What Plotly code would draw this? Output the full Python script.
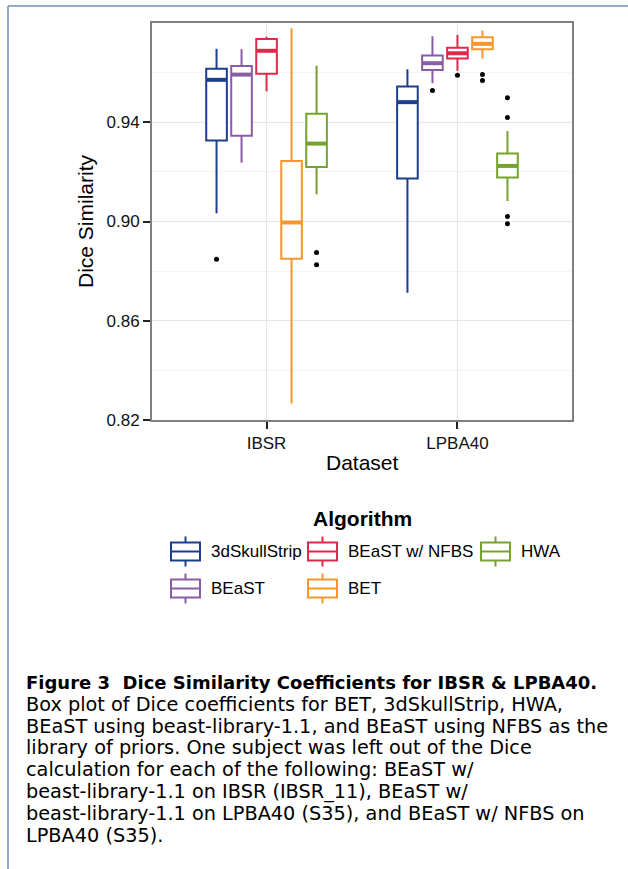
import plotly.graph_objects as go

# ---------------- data ----------------
categories = ["IBSR", "LPBA40"]
algorithms = ["3dSkullStrip", "BEaST", "BEaST w/ NFBS", "BET", "HWA"]
colors = ["#1D3E8E", "#8A5CA6", "#E1284A", "#F8962E", "#76A22E"]

# each list: [IBSR, LPBA40]
lower_fence = {
    "3dSkullStrip": [0.9033, 0.8713],
    "BEaST": [0.9237, 0.9557],
    "BEaST w/ NFBS": [0.9525, 0.9608],
    "BET": [0.8267, 0.9657],
    "HWA": [0.9110, 0.9083],
}
q1 = {
    "3dSkullStrip": [0.9326, 0.9173],
    "BEaST": [0.9346, 0.9611],
    "BEaST w/ NFBS": [0.9595, 0.9657],
    "BET": [0.8850, 0.9694],
    "HWA": [0.9220, 0.9177],
}
median = {
    "3dSkullStrip": [0.9571, 0.9481],
    "BEaST": [0.9592, 0.9638],
    "BEaST w/ NFBS": [0.9688, 0.9678],
    "BET": [0.8996, 0.9716],
    "HWA": [0.9314, 0.9224],
}
q3 = {
    "3dSkullStrip": [0.9616, 0.9544],
    "BEaST": [0.9627, 0.9669],
    "BEaST w/ NFBS": [0.9736, 0.9700],
    "BET": [0.9244, 0.9743],
    "HWA": [0.9434, 0.9274],
}
upper_fence = {
    "3dSkullStrip": [0.9696, 0.9614],
    "BEaST": [0.9694, 0.9747],
    "BEaST w/ NFBS": [0.9745, 0.9752],
    "BET": [0.9779, 0.9770],
    "HWA": [0.9628, 0.9365],
}
outliers = {
    "3dSkullStrip": [[0.8848], []],
    "BEaST": [[], [0.9528]],
    "BEaST w/ NFBS": [[], [0.9589]],
    "BET": [[], [0.9592, 0.9568]],
    "HWA": [[0.8875, 0.8826], [0.9499, 0.9419, 0.9020, 0.8991]],
}

y_ticks = [0.82, 0.86, 0.90, 0.94]
y_tick_labels = ["0.82", "0.86", "0.90", "0.94"]

x_title = "Dataset"
y_title = "Dice Similarity"
legend_title = "Algorithm"

caption_title = "Figure 3  Dice Similarity Coefficients for IBSR &amp; LPBA40."
caption_lines = [
    "Box plot of Dice coefficients for BET, 3dSkullStrip, HWA,",
    "BEaST using beast-library-1.1, and BEaST using NFBS as the",
    "library of priors. One subject was left out of the Dice",
    "calculation for each of the following: BEaST w/",
    "beast-library-1.1 on IBSR (IBSR_11), BEaST w/",
    "beast-library-1.1 on LPBA40 (S35), and BEaST w/ NFBS on",
    "LPBA40 (S35).",
]

# ---------------- layout geometry ----------------
W, H = 628, 869
ML, MR, MT, MB = 152, 56, 23, 449
PW = W - ML - MR
PH = H - MT - MB


def px(x):
    return (x - ML) / PW


def py(y):
    return (H - MB - y) / PH


DODGE = 0.131
BOX_W = 0.108
FONT = "Liberation Sans"

fig = go.Figure()

n = len(algorithms)
for j, (alg, col) in enumerate(zip(algorithms, colors)):
    off = (j - (n - 1) / 2) * DODGE
    xs = [i + off for i in range(len(categories))]
    fig.add_trace(go.Box(
        name=alg, x=xs,
        q1=q1[alg], median=median[alg], q3=q3[alg],
        lowerfence=lower_fence[alg], upperfence=upper_fence[alg],
        width=BOX_W, whiskerwidth=0, boxpoints=False,
        line=dict(color=col, width=2), fillcolor="white",
        showlegend=False,
    ))
    # thicker median line (ggplot style)
    mx, my = [], []
    for x, m in zip(xs, median[alg]):
        mx += [x - BOX_W / 2, x + BOX_W / 2, None]
        my += [m, m, None]
    fig.add_trace(go.Scatter(x=mx, y=my, mode="lines",
                             line=dict(color=col, width=4),
                             hoverinfo="skip", showlegend=False))
    ox, oy = [], []
    for x, pts in zip(xs, outliers[alg]):
        ox += [x] * len(pts)
        oy += pts
    fig.add_trace(go.Scatter(x=ox, y=oy, mode="markers",
                             marker=dict(color="black", size=5),
                             showlegend=False, name=alg + " outliers"))

shapes = []
annotations = []

# axis titles
annotations.append(dict(text=x_title, x=px(362), y=py(462), xref="paper", yref="paper",
                        showarrow=False, xanchor="center", yanchor="middle",
                        font=dict(family=FONT, size=21, color="black")))
annotations.append(dict(text=y_title, x=px(86), y=py(221), xref="paper", yref="paper",
                        showarrow=False, xanchor="center", yanchor="middle", textangle=-90,
                        font=dict(family=FONT, size=21, color="black")))

# legend (ggplot-like, drawn manually)
annotations.append(dict(text="<b>" + legend_title + "</b>", x=px(362), y=py(518),
                        xref="paper", yref="paper", showarrow=False,
                        xanchor="center", yanchor="middle",
                        font=dict(family=FONT, size=21, color="black")))
legend_cols_x = [171, 308, 481]
legend_rows_y = [551.5, 588.5]
legend_pos = {  # (col, row)
    "3dSkullStrip": (0, 0), "BEaST": (0, 1),
    "BEaST w/ NFBS": (1, 0), "BET": (1, 1), "HWA": (2, 0),
}
GW, GH, WH = 29, 18, 15
for alg, col in zip(algorithms, colors):
    c, r = legend_pos[alg]
    x0 = legend_cols_x[c]
    yc = legend_rows_y[r]
    xc = x0 + GW / 2
    shapes.append(dict(type="line", xref="paper", yref="paper",
                       x0=px(xc), x1=px(xc), y0=py(yc - WH), y1=py(yc + WH),
                       line=dict(color=col, width=2)))
    shapes.append(dict(type="rect", xref="paper", yref="paper",
                       x0=px(x0), x1=px(x0 + GW), y0=py(yc - GH / 2), y1=py(yc + GH / 2),
                       line=dict(color=col, width=2), fillcolor="white"))
    shapes.append(dict(type="line", xref="paper", yref="paper",
                       x0=px(x0), x1=px(x0 + GW), y0=py(yc), y1=py(yc),
                       line=dict(color=col, width=2)))
    annotations.append(dict(text=alg, x=px(x0 + 38), y=py(yc), xref="paper", yref="paper",
                            showarrow=False, xanchor="left", yanchor="middle",
                            font=dict(family=FONT, size=17, color="black")))

# page frame
FRAME = "#6F8FBA"
shapes.append(dict(type="line", xref="paper", yref="paper",
                   x0=px(8), x1=px(W + 2), y0=py(6), y1=py(6),
                   line=dict(color=FRAME, width=1.5)))
shapes.append(dict(type="line", xref="paper", yref="paper",
                   x0=px(8), x1=px(8), y0=py(6), y1=py(H + 2),
                   line=dict(color=FRAME, width=1.5)))

# caption
CAP_Y0, CAP_DY = 682.5, 21.8
annotations.append(dict(text="<b>" + caption_title + "</b>", x=px(24), y=py(CAP_Y0),
                        xref="paper", yref="paper", showarrow=False,
                        xanchor="left", yanchor="middle",
                        font=dict(family="DejaVu Sans", size=18, color="black")))
for k, line in enumerate(caption_lines):
    annotations.append(dict(text=line, x=px(24), y=py(CAP_Y0 + (k + 1) * CAP_DY),
                            xref="paper", yref="paper", showarrow=False,
                            xanchor="left", yanchor="middle",
                            font=dict(family="DejaVu Sans", size=19.3, color="black")))

fig.update_layout(
    width=W, height=H,
    margin=dict(l=ML, r=MR, t=MT, b=MB, pad=0),
    paper_bgcolor="white", plot_bgcolor="white",
    shapes=shapes, annotations=annotations,
    showlegend=False,
    xaxis=dict(range=[-0.6, 1.6], tickmode="array", tickvals=list(range(len(categories))),
               ticktext=categories, showgrid=True, gridcolor="#E5E5E5", gridwidth=1,
               zeroline=False, showline=True, mirror=True, linecolor="#7F7F7F", linewidth=2,
               ticks="outside", ticklen=7, tickwidth=2, tickcolor="#222222",
               tickfont=dict(family=FONT, size=17, color="#111111")),
    yaxis=dict(range=[0.82, 0.98], tickmode="array", tickvals=y_ticks, ticktext=y_tick_labels,
               showgrid=True, gridcolor="#E5E5E5", gridwidth=1,
               minor=dict(tick0=0.84, dtick=0.04, showgrid=True, gridcolor="#F5F5F5",
                          gridwidth=1, ticks=""),
               zeroline=False, showline=True, mirror=True, linecolor="#7F7F7F", linewidth=2,
               ticks="outside", ticklen=7, tickwidth=2, tickcolor="#222222",
               tickfont=dict(family=FONT, size=17, color="#111111")),
)

fig.write_html("out.html", config={"displayModeBar": False},
               post_script="document.body.style.margin='0';")
